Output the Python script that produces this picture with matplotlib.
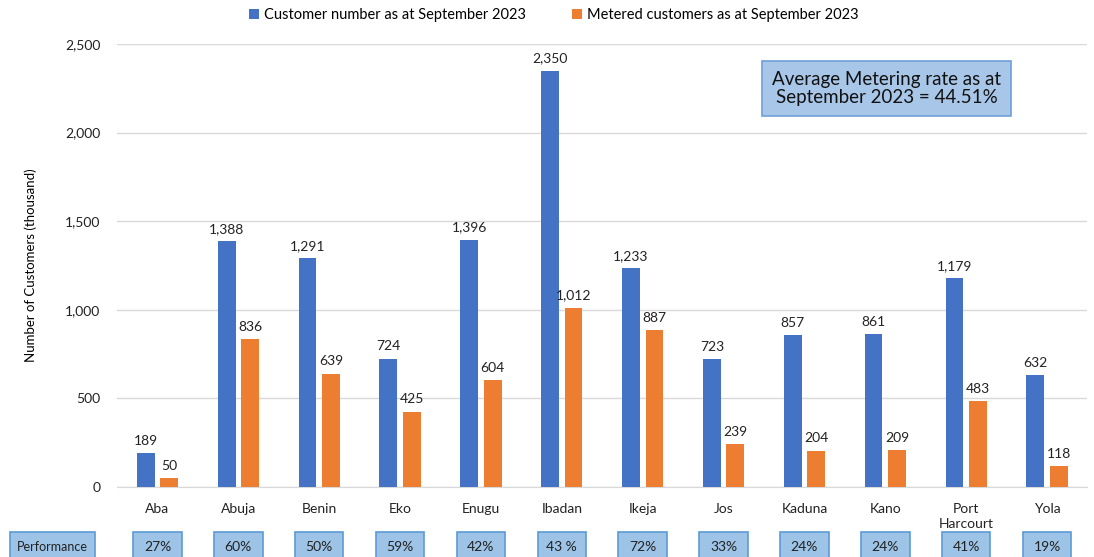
import matplotlib
matplotlib.use("Agg")
import matplotlib.pyplot as plt
from matplotlib.patches import Rectangle
from matplotlib.transforms import blended_transform_factory

plt.rcParams["font.family"] = ["Lato", "DejaVu Sans"]

regions = ["Aba", "Abuja", "Benin", "Eko", "Enugu", "Ibadan", "Ikeja", "Jos",
           "Kaduna", "Kano", "Port\nHarcourt", "Yola"]
customers = [189, 1388, 1291, 724, 1396, 2350, 1233, 723, 857, 861, 1179, 632]
metered = [50, 836, 639, 425, 604, 1012, 887, 239, 204, 209, 483, 118]
performance = ["27%", "60%", "50%", "59%", "42%", "43 %", "72%", "33%", "24%",
               "24%", "41%", "19%"]

BLUE = "#4472C4"
ORANGE = "#ED7D31"
BOX_FILL = "#9DC3E6"
BOX_EDGE = "#5B9BD5"

fig = plt.figure(figsize=(10.94, 5.57), dpi=100)
ax = fig.add_axes([0.107, 0.126, 0.887, 0.795])

x = list(range(len(regions)))
w = 0.22
off = 0.145
b1 = ax.bar([i - off for i in x], customers, w, color=BLUE,
            label="Customer number as at September 2023", zorder=3)
b2 = ax.bar([i + off for i in x], metered, w, color=ORANGE,
            label="Metered customers as at September 2023", zorder=3)
for bars, vals in ((b1, customers), (b2, metered)):
    for r, v in zip(bars, vals):
        ax.text(r.get_x() + r.get_width() / 2, v + 35, f"{v:,}", ha="center",
                va="bottom", fontsize=10, color="#222")

ax.set_xlim(-0.5, len(regions) - 0.5)
ax.set_ylim(0, 2500)
ax.set_yticks(range(0, 2501, 500))
ax.set_yticklabels([f"{v:,}" for v in range(0, 2501, 500)], fontsize=10)
ax.set_xticks(x)
ax.set_xticklabels(regions, fontsize=10, va="top", linespacing=1.3)
ax.tick_params(axis="both", length=0, pad=12, colors="#222")
ax.tick_params(axis="x", pad=12)
ax.yaxis.grid(True, color="#d9d9d9", lw=1, zorder=0)
for s in ("left", "right", "top"):
    ax.spines[s].set_visible(False)
ax.spines["bottom"].set_color("#d9d9d9")
ax.set_ylabel("Number of Customers (thousand)", fontsize=9.5, labelpad=20)

ax.legend(loc="lower center", bbox_to_anchor=(0.45, 1.02), ncol=2, frameon=False,
          fontsize=10.5, handlelength=0.7, handleheight=0.7, handletextpad=0.3,
          columnspacing=3.2)

# metering-rate call-out
ax.text(0.793, 0.90, "Average Metering rate as at\nSeptember 2023 = 44.51%",
        transform=ax.transAxes, ha="center", va="center", fontsize=13.5,
        linespacing=1.05, color="#111",
        bbox=dict(boxstyle="square,pad=0.55", fc="#A8C6E8", ec="#6FA0D8", lw=1.2))

# performance row under the axis
tr = blended_transform_factory(ax.transData, fig.transFigure)
for i, p in enumerate(performance):
    ax.add_patch(Rectangle((i - 0.3, -0.01), 0.6, 0.055, transform=tr,
                           fc=BOX_FILL, ec=BOX_EDGE, lw=1.2, clip_on=False))
    ax.text(i, 0.018, p, transform=tr, ha="center", va="center", fontsize=10,
            color="#222")
fig.patches.append(Rectangle((0.009, -0.01), 0.078, 0.055,
                             transform=fig.transFigure, fc=BOX_FILL,
                             ec=BOX_EDGE, lw=1.2))
fig.text(0.048, 0.018, "Performance", ha="center", va="center", fontsize=9,
         color="#222")

fig.savefig("out.png", dpi=100)
